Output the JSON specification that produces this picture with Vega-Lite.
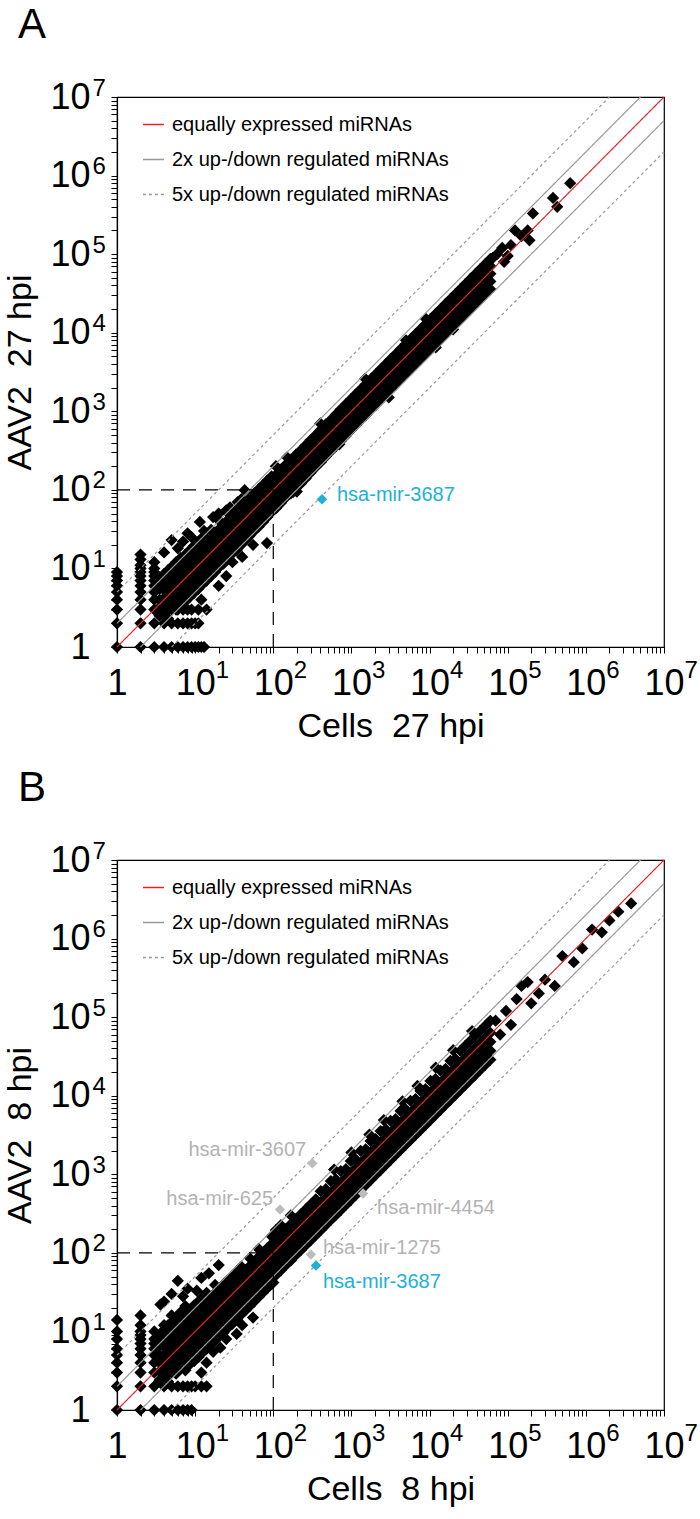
{
"$schema":"https://vega.github.io/schema/vega-lite/v6.json",
"padding":{"left":3,"top":3,"right":8,"bottom":5},
"config":{
 "font":"Liberation Sans",
 "view":{"stroke":"black","strokeWidth":1.2},
 "axis":{"grid":false,"domainColor":"black","domainWidth":1.2,"tickColor":"black","tickWidth":1,"tickSize":6,"labelFont":"Liberation Sans","labelFontSize":36,"labelColor":"black","labelOverlap":false,"labelFlush":false,"labelBound":false,"titleFont":"Liberation Sans","titleFontSize":34,"titleFontWeight":"normal","titleColor":"black"},
 "legend":{"orient":"top-left","offset":12,"padding":4,"labelFont":"Liberation Sans","labelFontSize":20,"labelColor":"black","labelLimit":0,"symbolType":"stroke","symbolSize":441,"symbolStrokeWidth":1.5,"rowPadding":13,"labelOffset":7,"symbolOffset":9},
 "title":{"font":"Liberation Sans","fontSize":42,"fontWeight":"normal","anchor":"start","color":"black"}
},
"resolve":{"scale":{"color":"independent","strokeDash":"independent"}},
"spacing":22,
"datasets":{
"diag":[{"t":"equally expressed miRNAs","g":"e","x":1,"y":1},{"t":"equally expressed miRNAs","g":"e","x":10000000,"y":10000000},
{"t":"2x up-/down regulated miRNAs","g":"u2","x":1,"y":2},{"t":"2x up-/down regulated miRNAs","g":"u2","x":5000000,"y":10000000},
{"t":"2x up-/down regulated miRNAs","g":"d2","x":2,"y":1},{"t":"2x up-/down regulated miRNAs","g":"d2","x":10000000,"y":5000000},
{"t":"5x up-/down regulated miRNAs","g":"u5","x":1,"y":5},{"t":"5x up-/down regulated miRNAs","g":"u5","x":2000000,"y":10000000},
{"t":"5x up-/down regulated miRNAs","g":"d5","x":5,"y":1},{"t":"5x up-/down regulated miRNAs","g":"d5","x":10000000,"y":2000000}],
"ref":[{"g":"h","x":1,"y":100},{"g":"h","x":100,"y":100},{"g":"v","x":100,"y":1},{"g":"v","x":100,"y":100}],
"hl":[{"p":"A","n":"hsa-mir-3687","x":420,"y":76},
{"p":"B","n":"hsa-mir-3607","x":315,"y":1380},
{"p":"B","n":"hsa-mir-625","x":122,"y":355},
{"p":"B","n":"hsa-mir-4454","x":1410,"y":569},
{"p":"B","n":"hsa-mir-1275","x":303,"y":95},
{"p":"B","n":"hsa-mir-3687","x":352,"y":69}],
"ptsA":[
{"x":1,"y":1},{"x":1,"y":2},{"x":1,"y":3},{"x":1,"y":4},{"x":1,"y":5},{"x":1,"y":6},{"x":1,"y":7},{"x":1,"y":8},{"x":1,"y":9},
{"x":2,"y":1},{"x":2,"y":2},{"x":2,"y":3},{"x":2,"y":4},{"x":2,"y":5},{"x":2,"y":6},{"x":2,"y":7},{"x":2,"y":8},{"x":2,"y":9},{"x":2,"y":10},{"x":2,"y":11},{"x":2,"y":13},{"x":2,"y":15},
{"x":3,"y":1},{"x":3,"y":2},{"x":3,"y":3},{"x":3,"y":4},{"x":3,"y":5},{"x":3,"y":6},{"x":3,"y":7},{"x":3,"y":8},{"x":3,"y":9},{"x":3,"y":10},{"x":3,"y":12},
{"x":4,"y":1},{"x":5,"y":1},{"x":6,"y":1},{"x":7,"y":1},{"x":8,"y":1},{"x":9,"y":1},{"x":10,"y":1},{"x":11,"y":1},{"x":12,"y":1},{"x":13,"y":1},
{"x":4,"y":2},{"x":5,"y":2},{"x":6,"y":2},{"x":7,"y":2},{"x":8,"y":2},{"x":9,"y":2},{"x":10,"y":2},{"x":11,"y":2},
{"x":4,"y":3},{"x":5,"y":3},{"x":6,"y":3},{"x":7,"y":3},{"x":8,"y":3},{"x":9,"y":3},{"x":11,"y":3},{"x":14,"y":3},
{"x":4,"y":16},{"x":5,"y":23},{"x":8,"y":28},{"x":11.5,"y":39},{"x":17,"y":45},{"x":28,"y":60},{"x":43,"y":99},{"x":6,"y":18},{"x":7,"y":22},{"x":9,"y":25},{"x":13,"y":30},{"x":20,"y":50},{"x":25,"y":55},{"x":35,"y":70},
{"x":12,"y":4},{"x":30,"y":12},{"x":55,"y":20},{"x":83,"y":21},{"x":20,"y":6},{"x":25,"y":8},{"x":40,"y":14},{"x":180,"y":94},
{"x":3.5,"y":2.5},{"x":3.5,"y":3.2},{"x":3.5,"y":4},{"x":3.5,"y":5.5},{"x":3.5,"y":7},
{"x":4,"y":2.6},{"x":4,"y":3.3},{"x":4,"y":4.2},{"x":4,"y":5.3},{"x":4,"y":6.6},{"x":4,"y":8.5},
{"x":4.5,"y":2.3},{"x":4.5,"y":3},{"x":4.5,"y":3.8},{"x":4.5,"y":4.7},{"x":4.5,"y":5.8},{"x":4.5,"y":7.5},{"x":4.5,"y":9.5},
{"x":5,"y":3.3},{"x":5,"y":4.1},{"x":5,"y":5.2},{"x":5,"y":6.5},{"x":5,"y":8.2},{"x":5,"y":10.5},
{"x":5.7,"y":3},{"x":5.7,"y":3.8},{"x":5.7,"y":4.7},{"x":5.7,"y":5.9},{"x":5.7,"y":7.3},{"x":5.7,"y":9.1},{"x":5.7,"y":12},
{"x":6.5,"y":3.3},{"x":6.5,"y":4.3},{"x":6.5,"y":5.3},{"x":6.5,"y":6.6},{"x":6.5,"y":8.3},{"x":6.5,"y":10.4},{"x":6.5,"y":13.5},
{"x":7.5,"y":3.8},{"x":7.5,"y":4.9},{"x":7.5,"y":6},{"x":7.5,"y":7.6},{"x":7.5,"y":9.5},{"x":7.5,"y":12},{"x":7.5,"y":15},
{"x":8.5,"y":4.3},{"x":8.5,"y":5.5},{"x":8.5,"y":6.8},{"x":8.5,"y":8.6},{"x":8.5,"y":10.8},{"x":8.5,"y":13.5},{"x":8.5,"y":17},
{"x":9.7,"y":4.9},{"x":9.7,"y":6.2},{"x":9.7,"y":7.8},{"x":9.7,"y":9.8},{"x":9.7,"y":12.3},{"x":9.7,"y":15.3},{"x":9.7,"y":19.5},
{"x":11,"y":5.5},{"x":11,"y":7.1},{"x":11,"y":8.8},{"x":11,"y":11.2},{"x":11,"y":14},{"x":11,"y":17.5},{"x":11,"y":22},
{"x":12.5,"y":6.3},{"x":12.5,"y":8},{"x":12.5,"y":10},{"x":12.5,"y":12.6},{"x":12.5,"y":15.8},{"x":12.5,"y":20},{"x":12.5,"y":25},
{"x":14,"y":7},{"x":14,"y":9},{"x":14,"y":11.3},{"x":14,"y":14.2},{"x":14,"y":17.7},{"x":14,"y":22},{"x":14,"y":28},
{"x":16,"y":8},{"x":16,"y":10.3},{"x":16,"y":12.8},{"x":16,"y":16},{"x":16,"y":20},{"x":16,"y":25},{"x":16,"y":31},
{"x":18,"y":9},{"x":18,"y":11.6},{"x":18,"y":14.5},{"x":18,"y":18.2},{"x":18,"y":22.7},{"x":18,"y":28.5},
{"x":20.5,"y":10.5},{"x":20.5,"y":13.2},{"x":20.5,"y":16.4},{"x":20.5,"y":20.7},{"x":20.5,"y":26},{"x":20.5,"y":32},{"x":20.5,"y":40},
{"x":23,"y":11.5},{"x":23,"y":14.8},{"x":23,"y":18.5},{"x":23,"y":23.3},{"x":23,"y":29},{"x":23,"y":36},
{"x":26,"y":13},{"x":26,"y":16.8},{"x":26,"y":21},{"x":26,"y":26.3},{"x":26,"y":33},{"x":26,"y":41},{"x":26,"y":51},
{"x":30,"y":15.5},{"x":30,"y":19.4},{"x":30,"y":24},{"x":30,"y":30.3},{"x":30,"y":38},{"x":30,"y":47},
{"x":34,"y":17},{"x":34,"y":22},{"x":34,"y":27.5},{"x":34,"y":34.3},{"x":34,"y":43},{"x":34,"y":54},
{"x":39,"y":20},{"x":39,"y":25},{"x":39,"y":31.5},{"x":39,"y":39.4},{"x":39,"y":49},{"x":39,"y":61},{"x":39,"y":76},
{"x":44,"y":23},{"x":44,"y":28.5},{"x":44,"y":35.5},{"x":44,"y":44.5},{"x":44,"y":55.5},{"x":44,"y":69},
{"x":50,"y":26},{"x":50,"y":32.5},{"x":50,"y":40.5},{"x":50,"y":50.5},{"x":50,"y":63},{"x":50,"y":79},
{"x":57,"y":30},{"x":57,"y":37},{"x":57,"y":46},{"x":57,"y":57.5},{"x":57,"y":72},{"x":57,"y":90},
{"x":65,"y":34},{"x":65,"y":42},{"x":65,"y":52.5},{"x":65,"y":65.6},{"x":65,"y":82},{"x":65,"y":102},
{"x":74,"y":39},{"x":74,"y":48},{"x":74,"y":60},{"x":74,"y":74.7},{"x":74,"y":93},{"x":74,"y":116},
{"x":84,"y":45},{"x":84,"y":54.5},{"x":84,"y":68},{"x":84,"y":84.8},{"x":84,"y":106},{"x":84,"y":132},
{"x":95,"y":52},{"x":95,"y":62},{"x":95,"y":77},{"x":95,"y":96},{"x":95,"y":120},{"x":95,"y":148},
{"x":108,"y":58},{"x":108,"y":75},{"x":108,"y":95},{"x":108,"y":120},{"x":108,"y":155},{"x":108,"y":200},
{"x":125,"y":68},{"x":125,"y":88},{"x":125,"y":112},{"x":125,"y":142},{"x":125,"y":180},
{"x":145,"y":80},{"x":145,"y":102},{"x":145,"y":130},{"x":145,"y":165},{"x":145,"y":210},
{"x":168,"y":90},{"x":168,"y":118},{"x":168,"y":150},{"x":168,"y":190},{"x":168,"y":240},
{"x":195,"y":105},{"x":195,"y":135},{"x":195,"y":172},{"x":195,"y":220},{"x":195,"y":280},
{"x":225,"y":120},{"x":225,"y":158},{"x":225,"y":200},{"x":225,"y":255},{"x":225,"y":320},
{"x":260,"y":140},{"x":260,"y":180},{"x":260,"y":232},{"x":260,"y":295},{"x":260,"y":370},
{"x":300,"y":165},{"x":300,"y":210},{"x":300,"y":270},{"x":300,"y":340},{"x":300,"y":430},
{"x":350,"y":195},{"x":350,"y":245},{"x":350,"y":315},{"x":350,"y":400},{"x":350,"y":500},
{"x":405,"y":225},{"x":405,"y":285},{"x":405,"y":365},{"x":405,"y":460},{"x":405,"y":580},
{"x":470,"y":265},{"x":470,"y":335},{"x":470,"y":425},{"x":470,"y":540},{"x":470,"y":680},
{"x":545,"y":310},{"x":545,"y":390},{"x":545,"y":495},{"x":545,"y":625},{"x":545,"y":780},
{"x":630,"y":360},{"x":630,"y":455},{"x":630,"y":575},{"x":630,"y":725},{"x":630,"y":910},
{"x":730,"y":420},{"x":730,"y":530},{"x":730,"y":665},{"x":730,"y":840},{"x":730,"y":1060},
{"x":850,"y":490},{"x":850,"y":615},{"x":850,"y":775},{"x":850,"y":980},{"x":850,"y":1230},
{"x":980,"y":570},{"x":980,"y":715},{"x":980,"y":900},{"x":980,"y":1130},{"x":980,"y":1420},
{"x":1130,"y":660},{"x":1130,"y":830},{"x":1130,"y":1040},{"x":1130,"y":1310},{"x":1130,"y":1640},
{"x":1310,"y":770},{"x":1310,"y":960},{"x":1310,"y":1210},{"x":1310,"y":1520},{"x":1310,"y":1900},
{"x":1520,"y":890},{"x":1520,"y":1120},{"x":1520,"y":1400},{"x":1520,"y":1760},{"x":1520,"y":2200},
{"x":1760,"y":1040},{"x":1760,"y":1300},{"x":1760,"y":1630},{"x":1760,"y":2050},{"x":1760,"y":2550},
{"x":2040,"y":1200},{"x":2040,"y":1500},{"x":2040,"y":1890},{"x":2040,"y":2380},{"x":2040,"y":2960},
{"x":2360,"y":1390},{"x":2360,"y":1740},{"x":2360,"y":2190},{"x":2360,"y":2750},{"x":2360,"y":3420},
{"x":2740,"y":1620},{"x":2740,"y":2020},{"x":2740,"y":2540},{"x":2740,"y":3200},{"x":2740,"y":3970},
{"x":3170,"y":1880},{"x":3170,"y":2350},{"x":3170,"y":2950},{"x":3170,"y":3700},{"x":3170,"y":4600},
{"x":3670,"y":2170},{"x":3670,"y":2720},{"x":3670,"y":3410},{"x":3670,"y":4280},{"x":3670,"y":5320},
{"x":4250,"y":2520},{"x":4250,"y":3150},{"x":4250,"y":3950},{"x":4250,"y":4960},{"x":4250,"y":6160},
{"x":4920,"y":2920},{"x":4920,"y":3650},{"x":4920,"y":4580},{"x":4920,"y":5740},{"x":4920,"y":7130},
{"x":5700,"y":3380},{"x":5700,"y":4230},{"x":5700,"y":5300},{"x":5700,"y":6650},{"x":5700,"y":8270},
{"x":6600,"y":3920},{"x":6600,"y":4900},{"x":6600,"y":6140},{"x":6600,"y":7700},{"x":6600,"y":9570},
{"x":7650,"y":4540},{"x":7650,"y":5680},{"x":7650,"y":7120},{"x":7650,"y":8920},{"x":7650,"y":11100},
{"x":8860,"y":5260},{"x":8860,"y":6580},{"x":8860,"y":8250},{"x":8860,"y":10300},{"x":8860,"y":12850},
{"x":10260,"y":6090},{"x":10260,"y":7620},{"x":10260,"y":9550},{"x":10260,"y":11950},{"x":10260,"y":14880},
{"x":11900,"y":7050},{"x":11900,"y":8830},{"x":11900,"y":11070},{"x":11900,"y":13850},{"x":11900,"y":17260},
{"x":13800,"y":8180},{"x":13800,"y":10240},{"x":13800,"y":12830},{"x":13800,"y":16060},{"x":13800,"y":20010},
{"x":16000,"y":9480},{"x":16000,"y":11870},{"x":16000,"y":14870},{"x":16000,"y":18620},{"x":16000,"y":23200},
{"x":18500,"y":10990},{"x":18500,"y":13760},{"x":18500,"y":17240},{"x":18500,"y":21580},{"x":18500,"y":26830},
{"x":21400,"y":12740},{"x":21400,"y":15950},{"x":21400,"y":19980},{"x":21400,"y":25010},{"x":21400,"y":31030},
{"x":24800,"y":14770},{"x":24800,"y":18490},{"x":24800,"y":23160},{"x":24800,"y":28990},{"x":24800,"y":35960},
{"x":28700,"y":17120},{"x":28700,"y":21430},{"x":28700,"y":26850},{"x":28700,"y":33600},{"x":28700,"y":41620},
{"x":33300,"y":19850},{"x":33300,"y":24850},{"x":33300,"y":31120},{"x":33300,"y":38950},{"x":33300,"y":48290},
{"x":38500,"y":23000},{"x":38500,"y":28800},{"x":38500,"y":36080},{"x":38500,"y":45150},{"x":38500,"y":55830},
{"x":44600,"y":26670},{"x":44600,"y":33390},{"x":44600,"y":41820},{"x":44600,"y":52340},{"x":44600,"y":64670},
{"x":51700,"y":30920},{"x":51700,"y":38710},{"x":51700,"y":48480},{"x":51700,"y":60680},{"x":51700,"y":74970},
{"x":59900,"y":35840},{"x":59900,"y":44870},{"x":59900,"y":56190},{"x":59900,"y":70340},{"x":59900,"y":86860},
{"x":150,"y":260},{"x":200,"y":95},{"x":400,"y":700},{"x":700,"y":380},{"x":1500,"y":2600},{"x":3000,"y":1500},{"x":9000,"y":15000},{"x":20000,"y":11000},{"x":5000,"y":8000},{"x":12000,"y":6500},
{"x":65000,"y":90000},{"x":73000,"y":100000},{"x":85000,"y":120000},{"x":90000,"y":80000},{"x":100000,"y":95000},{"x":110000,"y":130000},{"x":124000,"y":200000},{"x":150000,"y":170000},{"x":180000,"y":200000},{"x":190000,"y":150000},{"x":210000,"y":330000},{"x":380000,"y":520000},{"x":430000,"y":400000},{"x":630000,"y":800000}
],
"ptsB":[
{"x":1,"y":1},{"x":1,"y":2},{"x":1,"y":3},{"x":1,"y":4},{"x":1,"y":5},{"x":1,"y":6},{"x":1,"y":8},{"x":1,"y":10},{"x":1,"y":14},
{"x":2,"y":1},{"x":2,"y":2},{"x":2,"y":3},{"x":2,"y":4},{"x":2,"y":5},{"x":2,"y":6},{"x":2,"y":7},{"x":2,"y":8},{"x":2,"y":9},{"x":2,"y":10},{"x":2,"y":12},{"x":2,"y":16},
{"x":3,"y":1},{"x":3,"y":2},{"x":3,"y":3},{"x":3,"y":4},{"x":3,"y":5},{"x":3,"y":6},{"x":3,"y":7},{"x":3,"y":8},{"x":3,"y":10},
{"x":4,"y":1},{"x":5,"y":1},{"x":6,"y":1},{"x":7,"y":1},{"x":8,"y":1},{"x":9,"y":1},
{"x":4,"y":2},{"x":5,"y":2},{"x":6,"y":2},{"x":7,"y":2},{"x":8,"y":2},{"x":9,"y":2},{"x":10,"y":2},{"x":12,"y":2},{"x":14,"y":2},
{"x":4,"y":24},{"x":3.6,"y":22},{"x":6,"y":44},{"x":12,"y":48},{"x":10.5,"y":33},{"x":5,"y":30},{"x":8,"y":35},{"x":7,"y":28},{"x":15,"y":55},{"x":20,"y":70},{"x":4,"y":12},{"x":5,"y":16},
{"x":34,"y":9.3},{"x":55,"y":15},{"x":21,"y":6.2},{"x":17,"y":5.5},{"x":83,"y":36},{"x":100,"y":42},{"x":25,"y":8},{"x":40,"y":12},{"x":14,"y":4},{"x":12,"y":3},
{"x":3.5,"y":2.4},{"x":3.5,"y":3.1},{"x":3.5,"y":4},{"x":3.5,"y":5},{"x":3.5,"y":6.5},{"x":3.5,"y":8.5},
{"x":4,"y":2.5},{"x":4,"y":3.2},{"x":4,"y":4},{"x":4,"y":5.1},{"x":4,"y":6.4},{"x":4,"y":8.2},{"x":4,"y":10.5},
{"x":4.5,"y":2.3},{"x":4.5,"y":2.9},{"x":4.5,"y":3.7},{"x":4.5,"y":4.6},{"x":4.5,"y":5.9},{"x":4.5,"y":7.4},{"x":4.5,"y":9.4},{"x":4.5,"y":12},
{"x":5,"y":3},{"x":5,"y":3.9},{"x":5,"y":4.9},{"x":5,"y":6.2},{"x":5,"y":7.8},{"x":5,"y":10},{"x":5,"y":13},
{"x":5.7,"y":2.9},{"x":5.7,"y":3.6},{"x":5.7,"y":4.6},{"x":5.7,"y":5.8},{"x":5.7,"y":7.3},{"x":5.7,"y":9.2},{"x":5.7,"y":11.6},{"x":5.7,"y":15},
{"x":6.5,"y":3.4},{"x":6.5,"y":4.3},{"x":6.5,"y":5.4},{"x":6.5,"y":6.8},{"x":6.5,"y":8.6},{"x":6.5,"y":10.8},{"x":6.5,"y":13.6},{"x":6.5,"y":17.5},
{"x":7.5,"y":3.2},{"x":7.5,"y":4.1},{"x":7.5,"y":5.2},{"x":7.5,"y":6.5},{"x":7.5,"y":8.2},{"x":7.5,"y":10.3},{"x":7.5,"y":13},{"x":7.5,"y":16.4},{"x":7.5,"y":21},
{"x":8.5,"y":3.8},{"x":8.5,"y":4.8},{"x":8.5,"y":6},{"x":8.5,"y":7.6},{"x":8.5,"y":9.6},{"x":8.5,"y":12},{"x":8.5,"y":15.2},{"x":8.5,"y":19},
{"x":9.7,"y":4.2},{"x":9.7,"y":5.3},{"x":9.7,"y":6.7},{"x":9.7,"y":8.5},{"x":9.7,"y":10.7},{"x":9.7,"y":13.5},{"x":9.7,"y":17},{"x":9.7,"y":21.5},
{"x":11,"y":4.7},{"x":11,"y":6},{"x":11,"y":7.5},{"x":11,"y":9.5},{"x":11,"y":12},{"x":11,"y":15.1},{"x":11,"y":19},{"x":11,"y":24},
{"x":12.5,"y":5.4},{"x":12.5,"y":6.8},{"x":12.5,"y":8.6},{"x":12.5,"y":10.8},{"x":12.5,"y":13.6},{"x":12.5,"y":17.2},{"x":12.5,"y":21.7},{"x":12.5,"y":27.5},
{"x":14,"y":6},{"x":14,"y":7.6},{"x":14,"y":9.6},{"x":14,"y":12.1},{"x":14,"y":15.3},{"x":14,"y":19.3},{"x":14,"y":24.3},{"x":14,"y":31},
{"x":16,"y":6.8},{"x":16,"y":8.6},{"x":16,"y":10.9},{"x":16,"y":13.8},{"x":16,"y":17.4},{"x":16,"y":22},{"x":16,"y":27.8},
{"x":18,"y":7.6},{"x":18,"y":9.6},{"x":18,"y":12.2},{"x":18,"y":15.4},{"x":18,"y":19.5},{"x":18,"y":24.6},{"x":18,"y":31},{"x":18,"y":39},
{"x":20.5,"y":8.7},{"x":20.5,"y":11},{"x":20.5,"y":13.9},{"x":20.5,"y":17.6},{"x":20.5,"y":22.2},{"x":20.5,"y":28},{"x":20.5,"y":35.4},
{"x":23,"y":9.6},{"x":23,"y":12.2},{"x":23,"y":15.5},{"x":23,"y":19.6},{"x":23,"y":24.8},{"x":23,"y":31.3},{"x":23,"y":39.6},
{"x":26,"y":11},{"x":26,"y":13.9},{"x":26,"y":17.6},{"x":26,"y":22.2},{"x":26,"y":28},{"x":26,"y":35.4},{"x":26,"y":44.8},
{"x":30,"y":12.5},{"x":30,"y":15.8},{"x":30,"y":20},{"x":30,"y":25.3},{"x":30,"y":32},{"x":30,"y":40.4},{"x":30,"y":51},
{"x":34,"y":14.3},{"x":34,"y":18},{"x":34,"y":22.8},{"x":34,"y":28.8},{"x":34,"y":36.4},{"x":34,"y":46},{"x":34,"y":58},
{"x":39,"y":16.5},{"x":39,"y":20.8},{"x":39,"y":26.3},{"x":39,"y":33.3},{"x":39,"y":42},{"x":39,"y":53},{"x":39,"y":67},
{"x":44,"y":18.5},{"x":44,"y":23.4},{"x":44,"y":29.6},{"x":44,"y":37.4},{"x":44,"y":47.3},{"x":44,"y":59.7},
{"x":50,"y":21},{"x":50,"y":26.6},{"x":50,"y":33.6},{"x":50,"y":42.5},{"x":50,"y":53.7},{"x":50,"y":68},{"x":50,"y":86},
{"x":57,"y":24},{"x":57,"y":30.4},{"x":57,"y":38.4},{"x":57,"y":48.5},{"x":57,"y":61.3},{"x":57,"y":77.5},
{"x":65,"y":27.5},{"x":65,"y":34.7},{"x":65,"y":43.8},{"x":65,"y":55.4},{"x":65,"y":70},{"x":65,"y":88.5},{"x":65,"y":112},
{"x":74,"y":31.3},{"x":74,"y":39.5},{"x":74,"y":50},{"x":74,"y":63},{"x":74,"y":79.7},{"x":74,"y":100.7},
{"x":84,"y":35.6},{"x":84,"y":45},{"x":84,"y":56.8},{"x":84,"y":71.8},{"x":84,"y":90.7},{"x":84,"y":114.6},
{"x":95,"y":40},{"x":95,"y":50.6},{"x":95,"y":64},{"x":95,"y":81},{"x":95,"y":102},{"x":95,"y":129},{"x":95,"y":163},
{"x":108,"y":52},{"x":108,"y":68},{"x":108,"y":88},{"x":108,"y":114},{"x":108,"y":150},{"x":108,"y":195},
{"x":125,"y":60},{"x":125,"y":78},{"x":125,"y":102},{"x":125,"y":132},{"x":125,"y":172},{"x":125,"y":225},
{"x":145,"y":70},{"x":145,"y":91},{"x":145,"y":118},{"x":145,"y":153},{"x":145,"y":200},
{"x":168,"y":80},{"x":168,"y":105},{"x":168,"y":137},{"x":168,"y":178},{"x":168,"y":232},{"x":168,"y":300},
{"x":195,"y":94},{"x":195,"y":122},{"x":195,"y":159},{"x":195,"y":206},{"x":195,"y":268},
{"x":225,"y":108},{"x":225,"y":140},{"x":225,"y":183},{"x":225,"y":238},{"x":225,"y":310},
{"x":260,"y":125},{"x":260,"y":162},{"x":260,"y":211},{"x":260,"y":275},{"x":260,"y":357},
{"x":300,"y":144},{"x":300,"y":187},{"x":300,"y":244},{"x":300,"y":317},{"x":300,"y":412},
{"x":350,"y":168},{"x":350,"y":218},{"x":350,"y":284},{"x":350,"y":370},{"x":350,"y":480},
{"x":405,"y":194},{"x":405,"y":253},{"x":405,"y":329},{"x":405,"y":428},{"x":405,"y":610},
{"x":470,"y":226},{"x":470,"y":293},{"x":470,"y":381},{"x":470,"y":496},{"x":470,"y":645},
{"x":545,"y":262},{"x":545,"y":340},{"x":545,"y":442},{"x":545,"y":575},{"x":545,"y":820},
{"x":630,"y":302},{"x":630,"y":393},{"x":630,"y":511},{"x":630,"y":665},{"x":630,"y":860},
{"x":730,"y":350},{"x":730,"y":455},{"x":730,"y":592},{"x":730,"y":770},{"x":730,"y":1100},
{"x":850,"y":408},{"x":850,"y":530},{"x":850,"y":690},{"x":850,"y":895},{"x":850,"y":1160},
{"x":980,"y":470},{"x":980,"y":611},{"x":980,"y":795},{"x":980,"y":1030},{"x":980,"y":1480},
{"x":1130,"y":542},{"x":1130,"y":705},{"x":1130,"y":917},{"x":1130,"y":1190},{"x":1130,"y":1550},
{"x":1310,"y":630},{"x":1310,"y":818},{"x":1310,"y":1063},{"x":1310,"y":1380},{"x":1310,"y":1980},
{"x":1520,"y":730},{"x":1520,"y":950},{"x":1520,"y":1233},{"x":1520,"y":1600},{"x":1520,"y":2080},
{"x":1760,"y":845},{"x":1760,"y":1100},{"x":1760,"y":1430},{"x":1760,"y":1860},{"x":1760,"y":2650},
{"x":2040,"y":980},{"x":2040,"y":1275},{"x":2040,"y":1655},{"x":2040,"y":2150},{"x":2040,"y":2800},
{"x":2360,"y":1130},{"x":2360,"y":1475},{"x":2360,"y":1915},{"x":2360,"y":2490},{"x":2360,"y":3550},
{"x":2740,"y":1315},{"x":2740,"y":1710},{"x":2740,"y":2220},{"x":2740,"y":2890},{"x":2740,"y":3750},
{"x":3170,"y":1520},{"x":3170,"y":1980},{"x":3170,"y":2570},{"x":3170,"y":3340},{"x":3170,"y":4780},
{"x":3670,"y":1760},{"x":3670,"y":2290},{"x":3670,"y":2980},{"x":3670,"y":3870},{"x":3670,"y":5030},
{"x":4250,"y":2040},{"x":4250,"y":2650},{"x":4250,"y":3450},{"x":4250,"y":4480},{"x":4250,"y":6400},
{"x":4920,"y":2360},{"x":4920,"y":3070},{"x":4920,"y":3990},{"x":4920,"y":5190},{"x":4920,"y":6740},
{"x":5700,"y":2740},{"x":5700,"y":3560},{"x":5700,"y":4620},{"x":5700,"y":6010},{"x":5700,"y":8600},
{"x":6600,"y":3170},{"x":6600,"y":4120},{"x":6600,"y":5350},{"x":6600,"y":6960},{"x":6600,"y":9050},
{"x":7650,"y":3670},{"x":7650,"y":4770},{"x":7650,"y":6200},{"x":7650,"y":8070},{"x":7650,"y":11500},
{"x":8860,"y":4250},{"x":8860,"y":5530},{"x":8860,"y":7180},{"x":8860,"y":9340},{"x":8860,"y":12140},
{"x":10260,"y":4920},{"x":10260,"y":6400},{"x":10260,"y":8320},{"x":10260,"y":10820},{"x":10260,"y":15400},
{"x":11900,"y":5710},{"x":11900,"y":7420},{"x":11900,"y":9650},{"x":11900,"y":12550},{"x":11900,"y":16300},
{"x":13800,"y":6620},{"x":13800,"y":8610},{"x":13800,"y":11190},{"x":13800,"y":14550},{"x":13800,"y":20800},
{"x":16000,"y":7680},{"x":16000,"y":9980},{"x":16000,"y":12980},{"x":16000,"y":16870},{"x":16000,"y":21930},
{"x":18500,"y":8880},{"x":18500,"y":11540},{"x":18500,"y":15000},{"x":18500,"y":19500},{"x":18500,"y":27800},
{"x":21400,"y":10270},{"x":21400,"y":13350},{"x":21400,"y":17360},{"x":21400,"y":22560},{"x":21400,"y":29330},
{"x":24800,"y":11900},{"x":24800,"y":15470},{"x":24800,"y":20110},{"x":24800,"y":26150},{"x":24800,"y":37300},
{"x":28700,"y":13780},{"x":28700,"y":17910},{"x":28700,"y":23280},{"x":28700,"y":30270},{"x":28700,"y":43100},
{"x":33300,"y":15980},{"x":33300,"y":20780},{"x":33300,"y":27010},{"x":33300,"y":35120},{"x":33300,"y":50000},
{"x":38500,"y":18480},{"x":38500,"y":24020},{"x":38500,"y":31230},{"x":38500,"y":40600},{"x":38500,"y":57800},
{"x":44600,"y":21410},{"x":44600,"y":27830},{"x":44600,"y":36180},{"x":44600,"y":47030},{"x":44600,"y":67000},
{"x":51700,"y":24820},{"x":51700,"y":32260},{"x":51700,"y":41940},{"x":51700,"y":54520},{"x":51700,"y":77600},
{"x":59900,"y":28750},{"x":59900,"y":37380},{"x":59900,"y":48590},{"x":59900,"y":63170},{"x":59900,"y":89900},
{"x":600,"y":1150},{"x":1000,"y":1900},{"x":1700,"y":3200},{"x":2600,"y":4900},{"x":4500,"y":8500},{"x":7000,"y":13300},{"x":12000,"y":22800},{"x":20000,"y":38000},{"x":35000,"y":66500},
{"x":70000,"y":90000},{"x":80000,"y":60000},{"x":95000,"y":120000},{"x":110000,"y":80000},{"x":130000,"y":170000},{"x":150000,"y":250000},{"x":180000,"y":280000},{"x":200000,"y":150000},{"x":250000,"y":200000},{"x":300000,"y":300000},{"x":400000,"y":250000},{"x":500000,"y":600000},{"x":700000,"y":500000},{"x":900000,"y":750000},{"x":1200000,"y":1300000},{"x":1600000,"y":1200000},{"x":2000000,"y":1700000},{"x":2600000,"y":2200000},{"x":3800000,"y":2800000}
]
},
"vconcat":[
{
 "title":{"text":"A","offset":29,"dx":14},
 "width":547,"height":550,
 "resolve":{"axis":{"x":"independent","y":"independent"}},
 "encoding":{
  "x":{"field":"x","type":"quantitative","scale":{"type":"log","domain":[1,10000000],"nice":false},"axis":null},
  "y":{"field":"y","type":"quantitative","scale":{"type":"log","domain":[1,10000000],"nice":false},"axis":null}
 },
 "layer":[
  {"data":{"name":"ptsA"},"mark":{"type":"point","shape":"diamond","filled":true,"size":150,"color":"black","opacity":1},
   "encoding":{
    "x":{"field":"x","type":"quantitative","scale":{"type":"log","domain":[1,10000000],"nice":false},
     "axis":{"orient":"bottom","title":"Cells\u00a0\u00a027 hpi","values":[1,2,3,4,5,6,7,8,9,10,20,30,40,50,60,70,80,90,100,200,300,400,500,600,700,800,900,1000,2000,3000,4000,5000,6000,7000,8000,9000,10000,20000,30000,40000,50000,60000,70000,80000,90000,100000,200000,300000,400000,500000,600000,700000,800000,900000,1000000,2000000,3000000,4000000,5000000,6000000,7000000,8000000,9000000,10000000],
     "labelExpr":"datum.value < 1.5 ? '1' : (abs(log(datum.value)/LN10 - round(log(datum.value)/LN10)) < 0.001 ? '10' : '')",
     "labelPadding":13,"titlePadding":8}},
    "y":{"field":"y","type":"quantitative","scale":{"type":"log","domain":[1,10000000],"nice":false},
     "axis":{"orient":"left","title":"AAV2\u00a0\u00a027 hpi","values":[1,2,3,4,5,6,7,8,9,10,20,30,40,50,60,70,80,90,100,200,300,400,500,600,700,800,900,1000,2000,3000,4000,5000,6000,7000,8000,9000,10000,20000,30000,40000,50000,60000,70000,80000,90000,100000,200000,300000,400000,500000,600000,700000,800000,900000,1000000,2000000,3000000,4000000,5000000,6000000,7000000,8000000,9000000,10000000],
     "labelExpr":"datum.value < 1.5 ? '1' : (abs(log(datum.value)/LN10 - round(log(datum.value)/LN10)) < 0.001 ? '10' : '')",
     "labelPadding":21,"titlePadding":12}}}},
  {"data":{"name":"diag"},"mark":{"type":"line","strokeWidth":1.2},
   "encoding":{"detail":{"field":"g"},
    "color":{"field":"t","type":"nominal","scale":{"domain":["equally expressed miRNAs","2x up-/down regulated miRNAs","5x up-/down regulated miRNAs"],"range":["#e3242b","#999999","#999999"]},"legend":{"title":null}},
    "strokeDash":{"field":"t","type":"nominal","scale":{"domain":["equally expressed miRNAs","2x up-/down regulated miRNAs","5x up-/down regulated miRNAs"],"range":[[1,0],[1,0],[3,3]]},"legend":{"title":null}}}},
  {"data":{"name":"ref"},"mark":{"type":"line","color":"black","strokeWidth":1.2,"strokeDash":[13,9]},
   "encoding":{"detail":{"field":"g"},
    "x":{"field":"x","type":"quantitative","scale":{"type":"log","domain":[1,10000000],"nice":false},
     "axis":{"orient":"bottom","title":null,"values":[10,100,1000,10000,100000,1000000,10000000],"labelExpr":"'' + round(log(datum.value)/LN10)","labelFontSize":24,"labelAlign":"left","labelBaseline":"alphabetic","labelOffset":20,"labelPadding":30,"ticks":false,"tickSize":0,"domain":false}},
    "y":{"field":"y","type":"quantitative","scale":{"type":"log","domain":[1,10000000],"nice":false},
     "axis":{"orient":"left","title":null,"values":[10,100,1000,10000,100000,1000000,10000000],"labelExpr":"'' + round(log(datum.value)/LN10)","labelFontSize":24,"labelAlign":"left","labelBaseline":"middle","labelOffset":-9,"labelPadding":25,"ticks":false,"tickSize":0,"domain":false}}}},
  {"data":{"name":"hl"},"transform":[{"filter":"datum.p == 'A'"}],"mark":{"type":"point","shape":"diamond","filled":true,"size":110,"color":"#1db1d7","opacity":1}},
  {"data":{"name":"hl"},"transform":[{"filter":"datum.p == 'A'"}],"mark":{"type":"text","align":"left","baseline":"alphabetic","dx":15,"dy":2,"fontSize":20,"color":"#1db1d7"},"encoding":{"text":{"field":"n"}}}
 ]
},
{
 "title":{"text":"B","offset":29,"dx":14},
 "width":547,"height":550,
 "resolve":{"axis":{"x":"independent","y":"independent"}},
 "encoding":{
  "x":{"field":"x","type":"quantitative","scale":{"type":"log","domain":[1,10000000],"nice":false},"axis":null},
  "y":{"field":"y","type":"quantitative","scale":{"type":"log","domain":[1,10000000],"nice":false},"axis":null}
 },
 "layer":[
  {"data":{"name":"ptsB"},"mark":{"type":"point","shape":"diamond","filled":true,"size":150,"color":"black","opacity":1},
   "encoding":{
    "x":{"field":"x","type":"quantitative","scale":{"type":"log","domain":[1,10000000],"nice":false},
     "axis":{"orient":"bottom","title":"Cells\u00a0\u00a08 hpi","values":[1,2,3,4,5,6,7,8,9,10,20,30,40,50,60,70,80,90,100,200,300,400,500,600,700,800,900,1000,2000,3000,4000,5000,6000,7000,8000,9000,10000,20000,30000,40000,50000,60000,70000,80000,90000,100000,200000,300000,400000,500000,600000,700000,800000,900000,1000000,2000000,3000000,4000000,5000000,6000000,7000000,8000000,9000000,10000000],
     "labelExpr":"datum.value < 1.5 ? '1' : (abs(log(datum.value)/LN10 - round(log(datum.value)/LN10)) < 0.001 ? '10' : '')",
     "labelPadding":13,"titlePadding":8}},
    "y":{"field":"y","type":"quantitative","scale":{"type":"log","domain":[1,10000000],"nice":false},
     "axis":{"orient":"left","title":"AAV2\u00a0\u00a08 hpi","values":[1,2,3,4,5,6,7,8,9,10,20,30,40,50,60,70,80,90,100,200,300,400,500,600,700,800,900,1000,2000,3000,4000,5000,6000,7000,8000,9000,10000,20000,30000,40000,50000,60000,70000,80000,90000,100000,200000,300000,400000,500000,600000,700000,800000,900000,1000000,2000000,3000000,4000000,5000000,6000000,7000000,8000000,9000000,10000000],
     "labelExpr":"datum.value < 1.5 ? '1' : (abs(log(datum.value)/LN10 - round(log(datum.value)/LN10)) < 0.001 ? '10' : '')",
     "labelPadding":21,"titlePadding":12}}}},
  {"data":{"name":"diag"},"mark":{"type":"line","strokeWidth":1.2},
   "encoding":{"detail":{"field":"g"},
    "color":{"field":"t","type":"nominal","scale":{"domain":["equally expressed miRNAs","2x up-/down regulated miRNAs","5x up-/down regulated miRNAs"],"range":["#e3242b","#999999","#999999"]},"legend":{"title":null}},
    "strokeDash":{"field":"t","type":"nominal","scale":{"domain":["equally expressed miRNAs","2x up-/down regulated miRNAs","5x up-/down regulated miRNAs"],"range":[[1,0],[1,0],[3,3]]},"legend":{"title":null}}}},
  {"data":{"name":"ref"},"mark":{"type":"line","color":"black","strokeWidth":1.2,"strokeDash":[13,9]},
   "encoding":{"detail":{"field":"g"},
    "x":{"field":"x","type":"quantitative","scale":{"type":"log","domain":[1,10000000],"nice":false},
     "axis":{"orient":"bottom","title":null,"values":[10,100,1000,10000,100000,1000000,10000000],"labelExpr":"'' + round(log(datum.value)/LN10)","labelFontSize":24,"labelAlign":"left","labelBaseline":"alphabetic","labelOffset":20,"labelPadding":30,"ticks":false,"tickSize":0,"domain":false}},
    "y":{"field":"y","type":"quantitative","scale":{"type":"log","domain":[1,10000000],"nice":false},
     "axis":{"orient":"left","title":null,"values":[10,100,1000,10000,100000,1000000,10000000],"labelExpr":"'' + round(log(datum.value)/LN10)","labelFontSize":24,"labelAlign":"left","labelBaseline":"middle","labelOffset":-9,"labelPadding":25,"ticks":false,"tickSize":0,"domain":false}}}},
  {"data":{"name":"hl"},"transform":[{"filter":"datum.p == 'B' && datum.n != 'hsa-mir-3687'"}],"mark":{"type":"point","shape":"diamond","filled":true,"size":110,"color":"#bdbdbd","opacity":1}},
  {"data":{"name":"hl"},"transform":[{"filter":"datum.p == 'B' && datum.n == 'hsa-mir-3687'"}],"mark":{"type":"point","shape":"diamond","filled":true,"size":110,"color":"#1db1d7","opacity":1}},
  {"data":{"name":"hl"},"transform":[{"filter":"datum.p == 'B' && datum.n == 'hsa-mir-3607'"}],"mark":{"type":"text","align":"right","baseline":"alphabetic","dx":-6,"dy":-7,"fontSize":20,"color":"#b3b3b3"},"encoding":{"text":{"field":"n"}}},
  {"data":{"name":"hl"},"transform":[{"filter":"datum.p == 'B' && datum.n == 'hsa-mir-625'"}],"mark":{"type":"text","align":"right","baseline":"alphabetic","dx":-7,"dy":-5,"fontSize":20,"color":"#b3b3b3"},"encoding":{"text":{"field":"n"}}},
  {"data":{"name":"hl"},"transform":[{"filter":"datum.p == 'B' && datum.n == 'hsa-mir-4454'"}],"mark":{"type":"text","align":"left","baseline":"alphabetic","dx":14,"dy":20,"fontSize":20,"color":"#b3b3b3"},"encoding":{"text":{"field":"n"}}},
  {"data":{"name":"hl"},"transform":[{"filter":"datum.p == 'B' && datum.n == 'hsa-mir-1275'"}],"mark":{"type":"text","align":"left","baseline":"alphabetic","dx":12,"dy":-1,"fontSize":20,"color":"#b3b3b3"},"encoding":{"text":{"field":"n"}}},
  {"data":{"name":"hl"},"transform":[{"filter":"datum.p == 'B' && datum.n == 'hsa-mir-3687'"}],"mark":{"type":"text","align":"left","baseline":"alphabetic","dx":7,"dy":22,"fontSize":20,"color":"#1db1d7"},"encoding":{"text":{"field":"n"}}}
 ]
}
]
}
